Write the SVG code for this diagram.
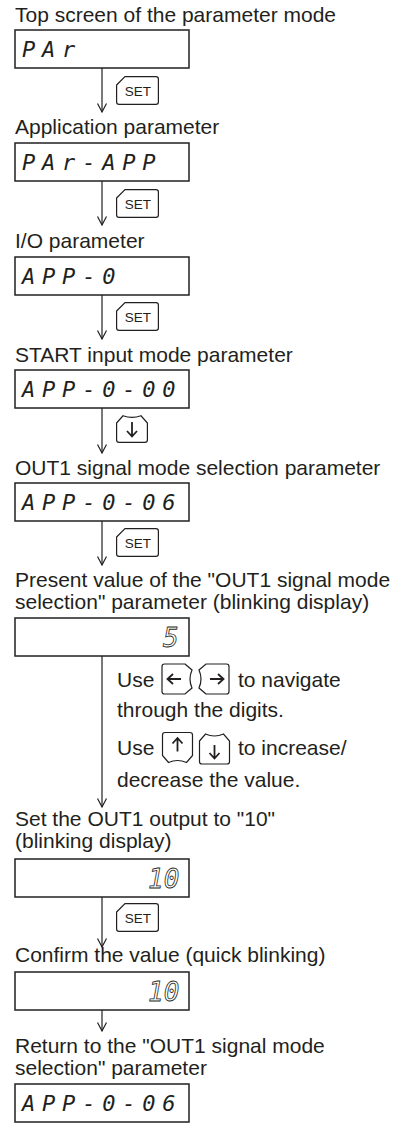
<svg xmlns="http://www.w3.org/2000/svg" xmlns:xlink="http://www.w3.org/1999/xlink" width="404" height="1124" viewBox="0 0 404 1124">
<style>
.t{font-family:"Liberation Sans",Arial,sans-serif;font-size:21px;fill:#231f20}
.box{fill:#fff;stroke:#231f20;stroke-width:1.5}
.seg{font-family:"DejaVu Sans Mono",monospace;font-style:italic;font-size:22px;fill:#231f20;letter-spacing:6.8px}
.hol{font-family:"DejaVu Sans Mono",monospace;font-style:italic;font-size:26px;fill:#fff;stroke:#231f20;stroke-width:0.8}
.ln{stroke:#231f20;stroke-width:1.2;fill:none;marker-end:url(#ah)}
.key{fill:#fff;stroke:#231f20;stroke-width:1.2}
.keyt{font-family:"Liberation Sans",Arial,sans-serif;font-size:13.5px;text-anchor:middle;fill:#231f20}
.arr{stroke:#231f20;stroke-width:1.8;fill:none}
</style>
<defs>
<marker id="ah" markerUnits="userSpaceOnUse" markerWidth="14" markerHeight="14" viewBox="-10 -7 14 14" refX="0" refY="0" orient="auto"><path d="M-8.5,-4.5 L0,0 L-8.5,4.5" fill="none" stroke="#231f20" stroke-width="1.2"/></marker>
<g id="setkey"><path class="key" d="M0.6,9 L9,0.6 L40,0.6 Q42.4,0.6 42.4,3 L42.4,26 Q42.4,28.4 40,28.4 L3,28.4 Q0.6,28.4 0.6,26 Z"/><text class="keyt" x="22" y="19.5">SET</text></g>
<g id="navkey"><path class="key" d="M-15,-8 L-9,-15 Q0,-11 9,-15 L15,-8 L15,12.5 Q15,15 12.5,15 L-12.5,15 Q-15,15 -15,12.5 Z"/><path class="arr" d="M0,-4 V9 M-5,4 L0,9.5 L5,4"/></g>
</defs>
<rect width="404" height="1124" fill="#fff"/>
<g id="connectors">
<line class="ln" x1="102" y1="68" x2="102" y2="112"/>
<line class="ln" x1="102" y1="181" x2="102" y2="225"/>
<line class="ln" x1="102" y1="295" x2="102" y2="339"/>
<line class="ln" x1="102" y1="408" x2="102" y2="453"/>
<line class="ln" x1="102" y1="521" x2="102" y2="565"/>
<line class="ln" x1="102" y1="656" x2="102" y2="807"/>
<line class="ln" x1="102" y1="897" x2="102" y2="947"/>
<line class="ln" x1="102" y1="1010" x2="102" y2="1031"/>
<use xlink:href="#setkey" transform="translate(116,76)"/>
<use xlink:href="#setkey" transform="translate(116,189)"/>
<use xlink:href="#setkey" transform="translate(116,302)"/>
<g transform="translate(116,415)"><path class="key" d="M0.6,8 L7,0.8 Q16,4 25,0.8 L31.4,8 L31.4,25 Q31.4,27.4 29,27.4 L3,27.4 Q0.6,27.4 0.6,25 Z"/><path class="arr" d="M16,7 V21 M11,16 L16,21.5 L21,16"/></g>
<use xlink:href="#setkey" transform="translate(116,528)"/>
<use xlink:href="#setkey" transform="translate(116,903)"/>
</g>
<g id="n1"><text class="t" x="15" y="22">Top screen of the parameter mode</text><rect class="box" x="15" y="30" width="174" height="38"/><text class="seg" x="22" y="57">PAr</text></g>
<g id="n2"><text class="t" x="15" y="134">Application parameter</text><rect class="box" x="15" y="143" width="174" height="38"/><text class="seg" x="22" y="170">PAr-APP</text></g>
<g id="n3"><text class="t" x="15" y="248">I/O parameter</text><rect class="box" x="15" y="257" width="174" height="38"/><text class="seg" x="22" y="284">APP-0</text></g>
<g id="n4"><text class="t" x="15" y="362">START input mode parameter</text><rect class="box" x="15" y="370" width="174" height="38"/><text class="seg" x="22" y="397">APP-0-00</text></g>
<g id="n5"><text class="t" x="15" y="475">OUT1 signal mode selection parameter</text><rect class="box" x="15" y="483" width="174" height="38"/><text class="seg" x="22" y="510">APP-0-06</text></g>
<g id="n6"><text class="t" x="15" y="587">Present value of the "OUT1 signal mode</text><text class="t" x="15" y="609">selection" parameter (blinking display)</text><rect class="box" x="15" y="618" width="174" height="38"/><text class="hol" x="163" y="647">5</text></g>
<g id="note">
<text class="t" x="117" y="687">Use</text>
<use xlink:href="#navkey" transform="translate(177,679) rotate(90)"/>
<use xlink:href="#navkey" transform="translate(214,679) rotate(-90)"/>
<text class="t" x="238" y="687">to navigate</text>
<text class="t" x="117" y="717">through the digits.</text>
<text class="t" x="117" y="755">Use</text>
<use xlink:href="#navkey" transform="translate(177.5,747.5) rotate(180)"/>
<use xlink:href="#navkey" transform="translate(214.5,749)"/>
<text class="t" x="238" y="755">to increase/</text>
<text class="t" x="117" y="787">decrease the value.</text>
</g>
<g id="n7"><text class="t" x="15" y="826">Set the OUT1 output to "10"</text><text class="t" x="15" y="848">(blinking display)</text><rect class="box" x="15" y="859" width="174" height="38"/><text class="hol" x="148" y="888">10</text></g>
<g id="n8"><text class="t" x="15" y="962">Confirm the value (quick blinking)</text><rect class="box" x="15" y="972" width="174" height="38"/><text class="hol" x="148" y="1001">10</text></g>
<g id="n9"><text class="t" x="15" y="1053">Return to the "OUT1 signal mode</text><text class="t" x="15" y="1075">selection" parameter</text><rect class="box" x="15" y="1084" width="174" height="38"/><text class="seg" x="22" y="1111">APP-0-06</text></g>
</svg>
